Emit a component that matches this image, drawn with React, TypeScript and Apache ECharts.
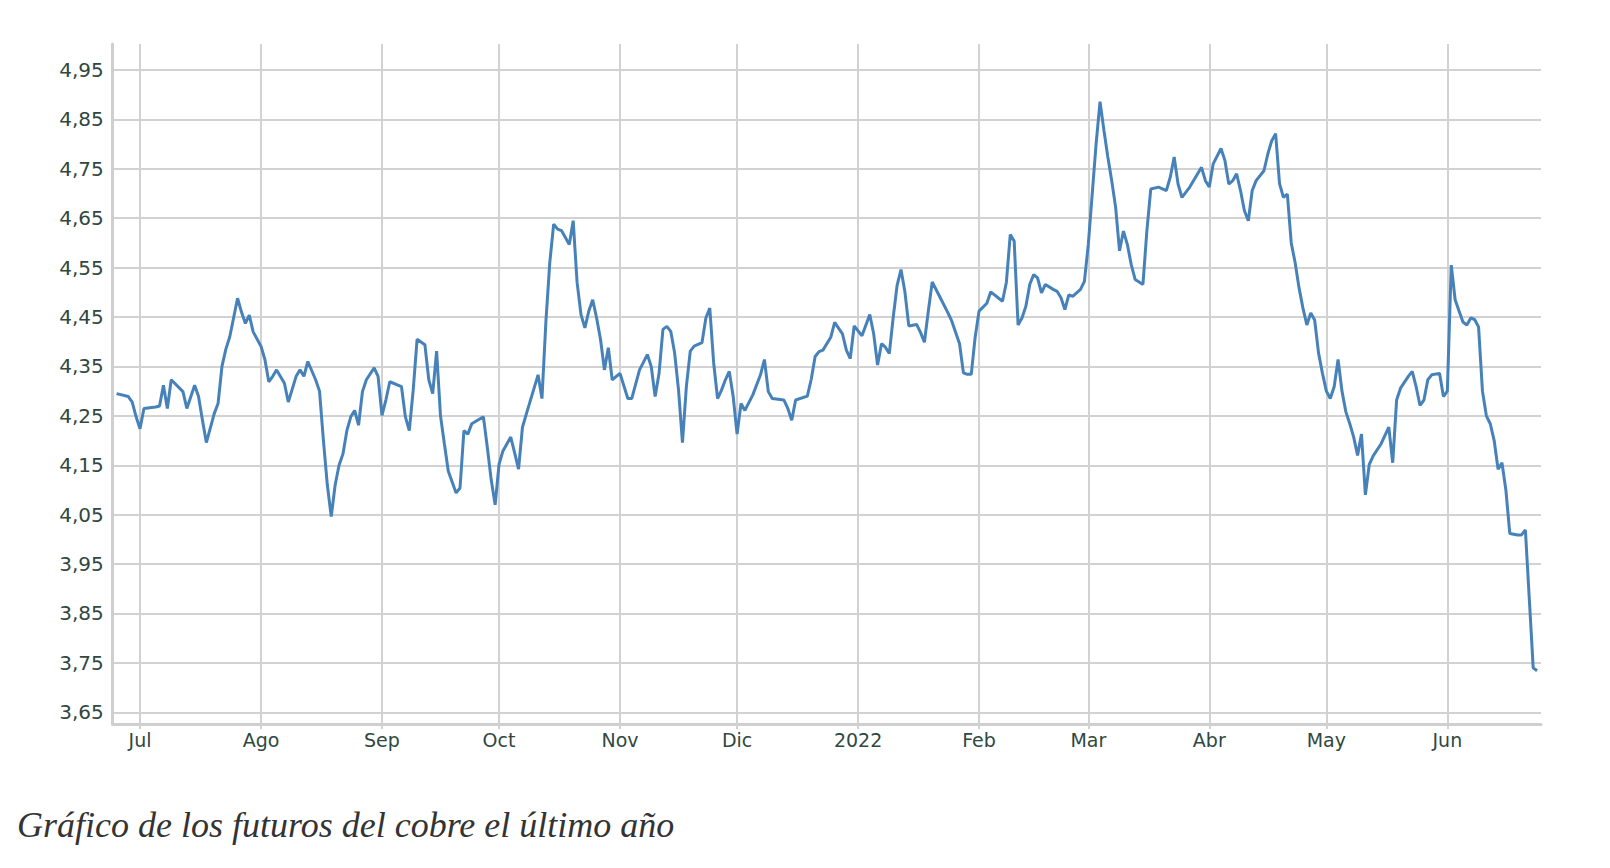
import React, { useEffect, useRef } from "react";
import * as echarts from "echarts";

// Copper futures, last year (USD/lb)
const dates: string[] = [
  "2021-06-25", "2021-06-28", "2021-06-29", "2021-06-30", "2021-07-01", "2021-07-02", "2021-07-05", "2021-07-06",
  "2021-07-07", "2021-07-08", "2021-07-09", "2021-07-12", "2021-07-13", "2021-07-15", "2021-07-16", "2021-07-17",
  "2021-07-18", "2021-07-20", "2021-07-21", "2021-07-22", "2021-07-23", "2021-07-24", "2021-07-26", "2021-07-27",
  "2021-07-28", "2021-07-29", "2021-07-30", "2021-08-01", "2021-08-02", "2021-08-03", "2021-08-04", "2021-08-05",
  "2021-08-07", "2021-08-08", "2021-08-10", "2021-08-11", "2021-08-12", "2021-08-13", "2021-08-15", "2021-08-16",
  "2021-08-17", "2021-08-18", "2021-08-19", "2021-08-20", "2021-08-21", "2021-08-22", "2021-08-23", "2021-08-24",
  "2021-08-25", "2021-08-26", "2021-08-27", "2021-08-28", "2021-08-30", "2021-08-31", "2021-09-01", "2021-09-02",
  "2021-09-03", "2021-09-06", "2021-09-07", "2021-09-08", "2021-09-09", "2021-09-10", "2021-09-12", "2021-09-13",
  "2021-09-14", "2021-09-15", "2021-09-16", "2021-09-17", "2021-09-18", "2021-09-20", "2021-09-21", "2021-09-22",
  "2021-09-23", "2021-09-24", "2021-09-27", "2021-09-28", "2021-09-29", "2021-09-30", "2021-10-01", "2021-10-02",
  "2021-10-04", "2021-10-05", "2021-10-06", "2021-10-07", "2021-10-08", "2021-10-11", "2021-10-12", "2021-10-13",
  "2021-10-14", "2021-10-15", "2021-10-16", "2021-10-17", "2021-10-19", "2021-10-20", "2021-10-21", "2021-10-22",
  "2021-10-23", "2021-10-24", "2021-10-25", "2021-10-26", "2021-10-27", "2021-10-28", "2021-10-29", "2021-10-30",
  "2021-11-01", "2021-11-03", "2021-11-04", "2021-11-06", "2021-11-08", "2021-11-09", "2021-11-10", "2021-11-11",
  "2021-11-12", "2021-11-13", "2021-11-14", "2021-11-15", "2021-11-16", "2021-11-17", "2021-11-18", "2021-11-19",
  "2021-11-20", "2021-11-22", "2021-11-23", "2021-11-24", "2021-11-25", "2021-11-26", "2021-11-27", "2021-11-28",
  "2021-11-29", "2021-11-30", "2021-12-01", "2021-12-02", "2021-12-03", "2021-12-05", "2021-12-07", "2021-12-08",
  "2021-12-09", "2021-12-10", "2021-12-13", "2021-12-14", "2021-12-15", "2021-12-16", "2021-12-19", "2021-12-20",
  "2021-12-21", "2021-12-22", "2021-12-23", "2021-12-25", "2021-12-26", "2021-12-28", "2021-12-29", "2021-12-30",
  "2021-12-31", "2022-01-01", "2022-01-02", "2022-01-04", "2022-01-05", "2022-01-06", "2022-01-07", "2022-01-08",
  "2022-01-09", "2022-01-10", "2022-01-11", "2022-01-12", "2022-01-13", "2022-01-14", "2022-01-16", "2022-01-17",
  "2022-01-18", "2022-01-19", "2022-01-20", "2022-01-22", "2022-01-24", "2022-01-25", "2022-01-27", "2022-01-28",
  "2022-01-29", "2022-01-30", "2022-01-31", "2022-02-01", "2022-02-03", "2022-02-04", "2022-02-07", "2022-02-08",
  "2022-02-09", "2022-02-10", "2022-02-11", "2022-02-12", "2022-02-13", "2022-02-14", "2022-02-15", "2022-02-16",
  "2022-02-17", "2022-02-18", "2022-02-20", "2022-02-21", "2022-02-22", "2022-02-23", "2022-02-24", "2022-02-25",
  "2022-02-27", "2022-02-28", "2022-03-01", "2022-03-02", "2022-03-03", "2022-03-04", "2022-03-05", "2022-03-06",
  "2022-03-07", "2022-03-08", "2022-03-09", "2022-03-10", "2022-03-11", "2022-03-12", "2022-03-13", "2022-03-15",
  "2022-03-16", "2022-03-17", "2022-03-19", "2022-03-21", "2022-03-22", "2022-03-23", "2022-03-24", "2022-03-25",
  "2022-03-27", "2022-03-30", "2022-03-31", "2022-04-01", "2022-04-02", "2022-04-04", "2022-04-05", "2022-04-06",
  "2022-04-07", "2022-04-08", "2022-04-09", "2022-04-10", "2022-04-11", "2022-04-12", "2022-04-13", "2022-04-15",
  "2022-04-16", "2022-04-17", "2022-04-18", "2022-04-19", "2022-04-20", "2022-04-21", "2022-04-22", "2022-04-23",
  "2022-04-24", "2022-04-25", "2022-04-26", "2022-04-27", "2022-04-28", "2022-04-29", "2022-04-30", "2022-05-01",
  "2022-05-02", "2022-05-03", "2022-05-04", "2022-05-05", "2022-05-06", "2022-05-07", "2022-05-08", "2022-05-09",
  "2022-05-10", "2022-05-11", "2022-05-12", "2022-05-13", "2022-05-15", "2022-05-17", "2022-05-18", "2022-05-19",
  "2022-05-20", "2022-05-22", "2022-05-23", "2022-05-24", "2022-05-25", "2022-05-26", "2022-05-27", "2022-05-28",
  "2022-05-30", "2022-05-31", "2022-06-01", "2022-06-02", "2022-06-03", "2022-06-04", "2022-06-05", "2022-06-06",
  "2022-06-07", "2022-06-08", "2022-06-09", "2022-06-10", "2022-06-11", "2022-06-12", "2022-06-13", "2022-06-14",
  "2022-06-15", "2022-06-16", "2022-06-17", "2022-06-19", "2022-06-20", "2022-06-21", "2022-06-22", "2022-06-23",
  "2022-06-24",
];

const prices: number[] = [
  4.295, 4.289, 4.278, 4.248, 4.224, 4.265, 4.268, 4.27,
  4.312, 4.265, 4.323, 4.299, 4.265, 4.312, 4.289, 4.241,
  4.196, 4.254, 4.275, 4.35, 4.385, 4.41, 4.488, 4.46,
  4.437, 4.454, 4.42, 4.391, 4.364, 4.319, 4.33, 4.343,
  4.316, 4.278, 4.33, 4.343, 4.33, 4.36, 4.323, 4.3,
  4.2, 4.11, 4.046, 4.11, 4.15, 4.173, 4.22, 4.248,
  4.261, 4.231, 4.299, 4.323, 4.347, 4.33, 4.251, 4.282,
  4.319, 4.309, 4.248, 4.22, 4.302, 4.405, 4.394, 4.323,
  4.295, 4.381, 4.25, 4.193, 4.138, 4.094, 4.104, 4.22,
  4.213, 4.234, 4.248, 4.186, 4.12, 4.07, 4.152, 4.179,
  4.207, 4.175, 4.142, 4.227, 4.254, 4.333, 4.285, 4.44,
  4.56, 4.638, 4.628, 4.625, 4.597, 4.645, 4.52, 4.455,
  4.428, 4.462, 4.485, 4.448, 4.405, 4.343, 4.388, 4.323,
  4.336, 4.285, 4.285, 4.343, 4.374, 4.35, 4.289, 4.336,
  4.425, 4.431, 4.421, 4.377, 4.302, 4.196, 4.309, 4.381,
  4.391, 4.398, 4.448, 4.468, 4.357, 4.285, 4.302, 4.323,
  4.34, 4.289, 4.213, 4.275, 4.261, 4.292, 4.333, 4.364,
  4.299, 4.285, 4.282, 4.265, 4.241, 4.282, 4.29, 4.324,
  4.37, 4.38, 4.383, 4.409, 4.439, 4.416, 4.383, 4.366,
  4.432, 4.422, 4.412, 4.455, 4.416, 4.353, 4.396, 4.389,
  4.376, 4.449, 4.514, 4.546, 4.501, 4.432, 4.435, 4.419,
  4.399, 4.462, 4.521, 4.49, 4.459, 4.442, 4.396, 4.337,
  4.334, 4.334, 4.409, 4.462, 4.478, 4.501, 4.482, 4.52,
  4.617, 4.604, 4.434, 4.448, 4.472, 4.516, 4.536, 4.529,
  4.499, 4.516, 4.506, 4.502, 4.489, 4.465, 4.495, 4.492,
  4.506, 4.522, 4.597, 4.699, 4.801, 4.886, 4.828, 4.774,
  4.726, 4.672, 4.584, 4.624, 4.597, 4.556, 4.526, 4.516,
  4.624, 4.709, 4.713, 4.706, 4.733, 4.774, 4.719, 4.692,
  4.713, 4.753, 4.726, 4.713, 4.76, 4.791, 4.767, 4.719,
  4.726, 4.74, 4.706, 4.665, 4.645, 4.706, 4.726, 4.746,
  4.78, 4.807, 4.821, 4.72, 4.692, 4.699, 4.6, 4.56,
  4.509, 4.468, 4.434, 4.458, 4.444, 4.377, 4.336, 4.3,
  4.285, 4.309, 4.364, 4.3, 4.258, 4.234, 4.207, 4.17,
  4.213, 4.09, 4.152, 4.169, 4.193, 4.227, 4.155, 4.282,
  4.306, 4.33, 4.34, 4.309, 4.271, 4.282, 4.323, 4.333,
  4.336, 4.289, 4.3, 4.555, 4.485, 4.462, 4.44, 4.434,
  4.448, 4.445, 4.43, 4.3, 4.25, 4.234, 4.2, 4.142,
  4.155, 4.1, 4.012, 4.009, 4.009, 4.019, 3.88, 3.74,
  3.734,
];

const yTicks: number[] = [3.65, 3.75, 3.85, 3.95, 4.05, 4.15, 4.25, 4.35, 4.45, 4.55, 4.65, 4.75, 4.85, 4.95];
const monthTicks: string[] = [
  "2021-07-01", "2021-08-01", "2021-09-01", "2021-10-01", "2021-11-01", "2021-12-01",
  "2022-01-01", "2022-02-01", "2022-03-01", "2022-04-01", "2022-05-01", "2022-06-01",
];
const monthLabels: string[] = ["Jul", "Ago", "Sep", "Oct", "Nov", "Dic", "2022", "Feb", "Mar", "Abr", "May", "Jun"];
const xRange: string[] = ["2021-06-24", "2022-06-25"];
const yRange: number[] = [3.6263, 5.0026];
const caption = "Gráfico de los futuros del cobre el último año";

function toTs(s: string): number {
  const [y, m, d] = s.split("-").map(Number);
  return Date.UTC(y, m - 1, d);
}

export default function App() {
  const ref = useRef<HTMLDivElement>(null);

  useEffect(() => {
    if (!ref.current) return;
    const chart = echarts.init(ref.current, null, { renderer: "svg" });
    const tickTs = monthTicks.map(toTs);
    const labelColor = "#2f4840";
    const gridColor = "#d2d2d2";

    chart.setOption({
      animation: false,
      backgroundColor: "#ffffff",
      grid: {
        left: 112.7,
        right: 69,
        top: 44,
        bottom: 144,
        containLabel: false,
        outerBoundsMode: "none",
      },
      xAxis: {
        type: "value",
        min: toTs(xRange[0]),
        max: toTs(xRange[1]),
        axisLine: { show: true, onZero: false, lineStyle: { color: "#cfcfcf", width: 3 } },
        axisTick: {
          show: true,
          length: 5,
          customValues: tickTs,
          lineStyle: { color: gridColor, width: 2 },
        },
        axisLabel: {
          customValues: tickTs,
          color: labelColor,
          fontFamily: "DejaVu Sans",
          fontSize: 19,
          margin: 6,
          showMinLabel: true,
          showMaxLabel: true,
          formatter: (value: number) => {
            const idx = tickTs.findIndex((t) => Math.abs(t - value) < 43200000);
            return idx >= 0 ? monthLabels[idx] : "";
          },
        },
        splitLine: { show: true, lineStyle: { color: gridColor, width: 2 } },
      },
      yAxis: {
        type: "value",
        min: yRange[0],
        max: yRange[1],
        axisLine: { show: true, onZero: false, lineStyle: { color: "#cfcfcf", width: 3 } },
        axisTick: { show: false, customValues: yTicks },
        axisLabel: {
          customValues: yTicks,
          color: labelColor,
          fontFamily: "DejaVu Sans",
          fontSize: 20,
          margin: 9,
          formatter: (v: number) => v.toFixed(2).replace(".", ","),
        },
        splitLine: { show: true, lineStyle: { color: gridColor, width: 2 } },
      },
      series: [
        {
          type: "line",
          data: dates.map((d, i) => [toTs(d), prices[i]]),
          showSymbol: false,
          symbol: "none",
          lineStyle: { color: "#4682b9", width: 3 },
          z: 3,
        },
      ],
      graphic: [
        {
          type: "text",
          x: 17,
          y: 825,
          style: {
            text: caption,
            fontFamily: "Liberation Serif",
            fontStyle: "italic",
            fontSize: 36,
            fill: "#333333",
            align: "left",
            verticalAlign: "middle",
          },
        },
      ],
    });

    return () => chart.dispose();
  }, []);

  return (
    <div
      ref={ref}
      style={{ position: "fixed", left: 0, top: 0, width: 1610, height: 868, background: "#ffffff" }}
    />
  );
}
